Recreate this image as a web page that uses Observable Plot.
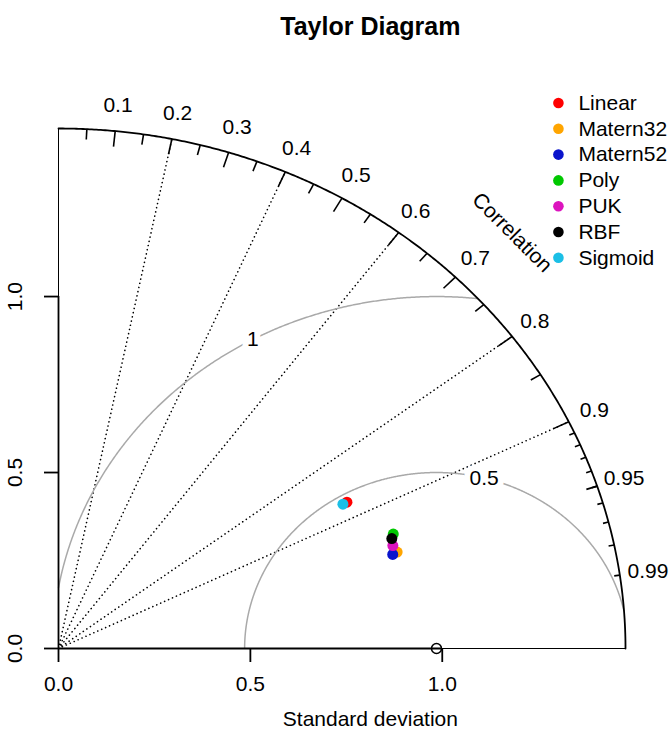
<!DOCTYPE html>
<html>
<head>
<meta charset="utf-8">
<script src="https://cdn.jsdelivr.net/npm/d3@7"></script>
<script src="https://cdn.jsdelivr.net/npm/@observablehq/plot@0.6"></script>
<style>
  body { margin: 0; background: #fff; }
  svg { display: block; }
</style>
</head>
<body>
<div id="chart"></div>
<script>
// ---- data ----
const models = ["Linear", "Matern32", "Matern52", "Poly", "PUK", "RBF", "Sigmoid"];
const modelColors = ["#FF0000", "#FFA500", "#0A14CC", "#00C800", "#DC14BE", "#000000", "#1BBFE6"];
const modelSD = [0.859, 0.924, 0.911, 0.931, 0.919, 0.923, 0.847];
const modelCor = [0.875, 0.955, 0.956, 0.937, 0.948, 0.941, 0.875];
const refSD = 0.985;

const sdTicks = [0, 0.5, 1.0];
const corLabelValues = [0.1, 0.2, 0.3, 0.4, 0.5, 0.6, 0.7, 0.8, 0.9, 0.95, 0.99];
const corBigTicks = [0.1, 0.2, 0.3, 0.4, 0.5, 0.6, 0.7, 0.8, 0.9];
const corMedTicks = [0.05, 0.15, 0.25, 0.35, 0.45, 0.55, 0.65, 0.75, 0.85, 0.95];
const corSmallTicks = [0.91, 0.92, 0.93, 0.94, 0.95, 0.96, 0.97, 0.98, 0.99];
const corRays = [0.2, 0.4, 0.6, 0.8, 0.9];
const rmsLevels = [0.5, 1];
const rmsLabelAngles = [1.32, 2.07];

// ---- geometry helpers ----
const maxSD = 1.5 * refSD;
const polar = (sd, r) => ({x: sd * r, y: sd * Math.sqrt(Math.max(0, 1 - r * r))});

const points = models.map((m, i) => ({model: m, color: modelColors[i], ...polar(modelSD[i], modelCor[i])}));

const outerArc = d3.range(0, 1.0001, 0.0025).map(t => ({
  x: maxSD * Math.cos(t * Math.PI / 2), y: maxSD * Math.sin(t * Math.PI / 2)
}));

const arcTicks = [
  ...corBigTicks.map(r => ({r, len: 0.03})),
  ...corMedTicks.map(r => ({r, len: 0.02})),
  ...corSmallTicks.map(r => ({r, len: 0.01}))
];

const rmsPts = [];
rmsLevels.forEach(g => {
  for (let t = 0; t <= Math.PI; t += 0.004) {
    const x = refSD + g * Math.cos(t), y = g * Math.sin(t);
    if (x >= 0 && x * x + y * y <= maxSD * maxSD) rmsPts.push({g, x, y});
  }
});
const rmsLabels = rmsLevels.map((g, i) => ({
  text: String(g), x: refSD + g * Math.cos(rmsLabelAngles[i]), y: g * Math.sin(rmsLabelAngles[i])
}));

const legendX = 0.8817 * maxSD;
const legendTop = 1.049 * maxSD;
const legendStep = 0.0496 * maxSD;

const font = "'Liberation Sans', Arial, Helvetica, sans-serif";
const fs = 21;

const chart = Plot.plot({
  width: 671,
  height: 731,
  marginLeft: 58,
  marginRight: 46,
  marginTop: 128,
  marginBottom: 83,
  x: {domain: [0, maxSD]},
  y: {domain: [0, maxSD]},
  style: {fontFamily: font, fontSize: fs + "px", color: "black", background: "white", overflow: "visible"},
  marks: [
    // dotted correlation rays
    Plot.link(corRays, {
      x1: 0, y1: 0,
      x2: r => polar(maxSD, r).x, y2: r => polar(maxSD, r).y,
      stroke: "black", strokeWidth: 1.6, strokeDasharray: "0.1,4.2", strokeLinecap: "round"
    }),
    // centred RMS arcs
    Plot.line(rmsPts, {x: "x", y: "y", z: "g", stroke: "#a9a9a9", strokeWidth: 1.5}),
    Plot.text(rmsLabels, {x: "x", y: "y", text: "text", fill: "black", stroke: "white", strokeWidth: 12, fontSize: fs}),
    // boundary lines
    Plot.ruleY([0], {x1: 0, x2: maxSD, stroke: "black", strokeWidth: 1}),
    Plot.ruleX([0], {y1: 0, y2: maxSD, stroke: "black", strokeWidth: 1}),
    // axis lines 0..1
    Plot.ruleY([0], {x1: sdTicks[0], x2: sdTicks[sdTicks.length - 1], stroke: "black", strokeWidth: 1.8}),
    Plot.ruleX([0], {y1: sdTicks[0], y2: sdTicks[sdTicks.length - 1], stroke: "black", strokeWidth: 1.8}),
    Plot.axisX({ticks: sdTicks, tickSize: 14, tickPadding: 14, tickFormat: d => d.toFixed(1), label: null, fontSize: fs, strokeWidth: 1.8}),
    Plot.axisY({ticks: sdTicks, tickSize: 14, tickFormat: () => "", label: null, strokeWidth: 1.8}),
    Plot.text(sdTicks, {x: 0, y: d => d, text: d => d.toFixed(1), rotate: -90, dx: -43, fontSize: fs}),
    // outer arc
    Plot.line(outerArc, {x: "x", y: "y", stroke: "black", strokeWidth: 1.8}),
    Plot.link(arcTicks, {
      x1: d => polar(maxSD, d.r).x, y1: d => polar(maxSD, d.r).y,
      x2: d => polar(maxSD * (1 - d.len), d.r).x, y2: d => polar(maxSD * (1 - d.len), d.r).y,
      stroke: "black", strokeWidth: 1.6
    }),
    Plot.text(corLabelValues, {x: r => polar(1.05 * maxSD, r).x, y: r => polar(1.05 * maxSD, r).y, text: r => String(r), fontSize: fs}),
    Plot.text(["Correlation"], {x: 0.8 * maxSD, y: 0.8 * maxSD, text: d => d, rotate: 45, fontSize: fs}),
    // reference point
    Plot.dot([refSD], {x: d => d, y: 0, r: 5, stroke: "black", fill: "none", strokeWidth: 1.5}),
    // model points
    Plot.dot(points, {x: "x", y: "y", r: 5.5, fill: "color", stroke: "none"}),
    // legend
    Plot.dot(models, {x: legendX, y: (d, i) => legendTop - i * legendStep, r: 5.3, fill: (d, i) => modelColors[i], stroke: "none"}),
    Plot.text(models, {x: legendX, y: (d, i) => legendTop - i * legendStep, text: d => d, dx: 20, textAnchor: "start", fontSize: fs}),
    // axis title & main title
    Plot.text(["Standard deviation"], {x: 0.55 * maxSD, y: 0, text: d => d, dy: 71, fontSize: fs}),
    Plot.text(["Taylor Diagram"], {x: 0.55 * maxSD, y: maxSD, text: d => d, dy: -102, fontSize: 25, fontWeight: "bold"})
  ]
});
document.getElementById("chart").appendChild(chart);
</script>
</body>
</html>
